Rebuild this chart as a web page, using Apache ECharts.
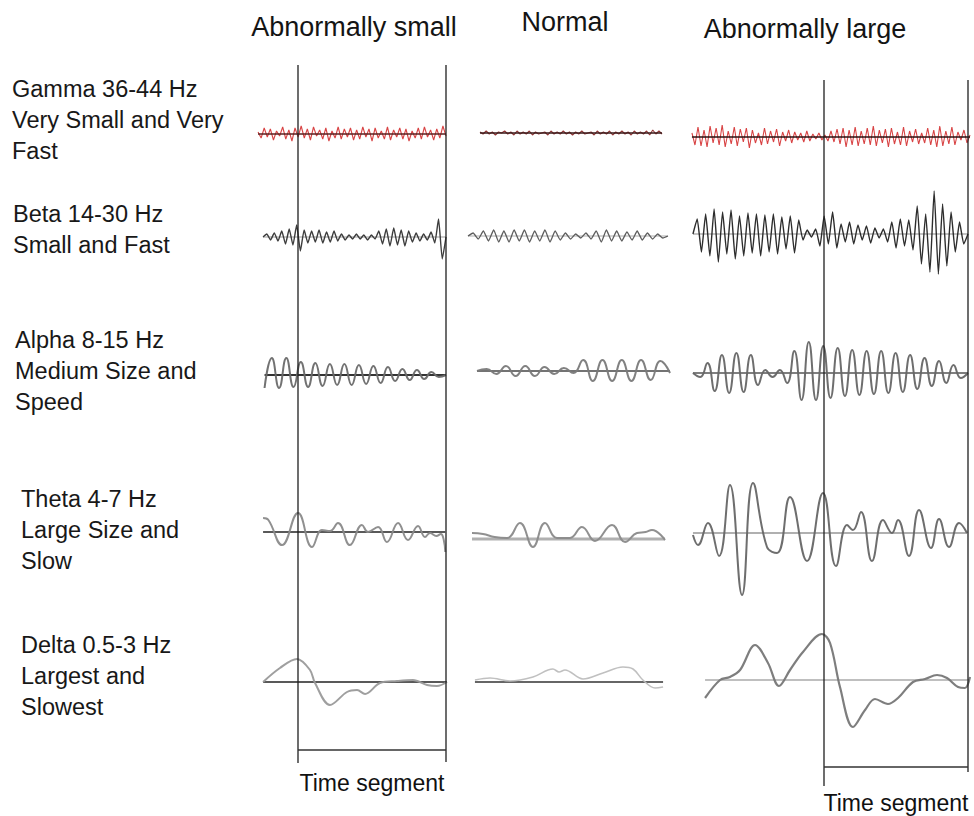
<!DOCTYPE html>
<html>
<head>
<meta charset="utf-8">
<script src="https://cdn.jsdelivr.net/npm/echarts@6/dist/echarts.min.js"></script>
<style>html,body{margin:0;padding:0;background:#fff}#c{width:974px;height:816px}</style>
</head>
<body>
<div id="c"></div>
<script>
// ---------- texts ----------
const columnTitles = ['Abnormally small', 'Normal', 'Abnormally large'];
const bandLabels = [
  ['Gamma 36-44 Hz', 'Very Small and Very', 'Fast'],
  ['Beta 14-30 Hz', 'Small and Fast'],
  ['Alpha 8-15 Hz', 'Medium Size and', 'Speed'],
  ['Theta 4-7 Hz', 'Large Size and', 'Slow'],
  ['Delta 0.5-3 Hz', 'Largest and', 'Slowest']
];
const segmentLabel = 'Time segment';
const segmentMs = 1000; // one time segment (between the vertical lines)

// ---------- data (amplitude in µV, time in ms; uniform samples span [t0,t1]) ----------
// Gamma
const gammaSmall = [2,-4,6,-3,5,-6,3,-2,7,-5,4,-7,6,-3,8,-4,5,-6,7,-2,4,-5,6,-7,3,-4,7,-5,5,-3,6,-6,4,-5,7,-3,5,-7,6,-4,3,-5,7,-6,4,-3,6,-5,5,-7,3,-4,6,-5,7,-3,4,-6,5,-4,8,-2];
const gammaSmallSpan = [-270, 1000];
const gammaNormal = [1,-1,2,-1,1,-2,1,0,2,-1,1,-2,2,-1,1,-1,2,-2,1,-1,0,1,-2,2,-1,1,-1,2,-1,1,-2,1,-1,2,-1,0,1,-2,2,-1,1,-1,2,-2,1,-1,2,-1,1,-2,2,-1,1,-1,2,-2,3,-1,2,-1];
const gammaNormalSpan = [81, 1311];
const gammaLarge = [4,-8,10,-9,7,-10,11,-6,9,-8,12,-10,6,-7,10,-9,8,-5,9,-11,7,-6,4,-8,9,-7,6,-5,8,-9,5,-4,7,-6,5,-3,4,-5,6,-4,3,-2,4,-3,2,-4,6,-5,8,-7,9,-10,7,-8,10,-9,6,-7,9,-8,11,-9,7,-6,8,-10,9,-7,5,-8,10,-9,6,-5,8,-7,4,-6,9,-8,7,-10,11,-9,6,-7,10,-8,5,-3,7,-6,2];
const gammaLargeSpan = [-917, 1014];
// Beta
const betaSmall = [0,3,-3,4,-4,6,-7,8,-8,12,-14,7,-6,6,-5,7,-6,5,-5,6,-4,3,-3,2,-2,3,-2,2,-3,2,-2,6,-7,8,-9,9,-8,7,-9,6,-5,4,-4,3,-3,5,-6,18,-22,0];
const betaSmallSpan = [-236, 1000];
const betaNormal = [0,3,-3,5,-5,6,-6,5,-6,6,-5,6,-6,5,-5,6,-6,5,-4,3,-3,2,-2,3,-3,5,-6,6,-5,5,-5,4,-4,5,-4,3,-3,2,-2,0];
const betaNormalSpan = [0, 1351];
const betaLarge = [0,15,-18,20,-22,25,-28,22,-20,24,-25,18,-22,21,-19,20,-22,19,-18,20,-20,17,-15,18,-19,14,-6,4,-3,5,-12,18,-10,22,-14,10,-8,12,-10,9,-6,8,-9,6,-4,5,-8,12,-14,15,-12,14,-16,28,-30,20,-38,43,-40,30,-32,22,-18,12,-10,0];
const betaLargeSpan = [-910, 1000];
// Alpha (successive peaks / troughs)
const alphaSmall = [-13,17,-13,17,-12,13,-12,12,-11,11,-10,11,-10,10,-9,9,-8,8,-6,6,-5,5,-4,3,-2,0];
const alphaSmallSpan = [-226, 1000];
const alphaNormal = [0,2,-3,5,-5,5,-5,4,-3,3,-2,11,-10,11,-10,11,-10,11,-9,10,-2];
const alphaNormalSpan = [61, 1365];
const alphaLarge = [0,-4,10,-18,18,-20,20,-19,18,-12,3,-4,3,-10,22,-27,31,-27,27,-25,25,-23,23,-22,22,-21,22,-20,20,-19,18,-16,15,-13,12,-10,8,-5,0];
const alphaLargeSpan = [-910, 1000];
// Theta ([time ms, µV])
const thetaSmall = [[-236,14],[-200,12],[-108,-13],[0,19],[95,-15],[162,2],[216,1],[270,9],[351,-13],[432,7],[473,0],[541,5],[601,-10],[676,9],[743,-8],[811,6],[858,-5],[892,-1],[935,-4],[965,-2],[985,-8],[995,-20]];
const thetaNormal = [[27,6],[101,5],[180,2],[264,1],[351,16],[439,-8],[520,16],[601,1],[689,1],[770,12],[858,-2],[973,14],[1061,-3],[1142,6],[1200,7],[1243,9],[1331,-1]];
const thetaLarge = [[-910,-2],[-875,-12],[-806,10],[-729,-23],[-653,48],[-569,-62],[-493,50],[-396,-14],[-326,-20],[-236,36],[-118,-28],[-7,40],[83,-33],[160,8],[201,3],[257,21],[333,-28],[410,13],[472,0],[514,13],[590,-23],[660,23],[743,-15],[799,14],[868,-14],[938,10],[993,0]];
// Delta ([time ms, µV])
const deltaSmall = [[-236,0],[-122,14],[-7,23],[81,12],[115,-1],[216,-23],[331,-10],[399,-8],[453,-12],[554,-1],[669,1],[777,2],[872,-3],[939,-4],[1007,0]];
const deltaNormal = [[47,2],[149,4],[284,1],[439,5],[574,13],[615,10],[655,12],[777,3],[912,9],[1047,15],[1115,13],[1182,2],[1264,-6],[1318,-5]];
const deltaLarge = [[-826,-18],[-722,0],[-653,3],[-583,10],[-479,35],[-389,17],[-313,-6],[-236,10],[-146,28],[-14,46],[42,37],[111,-7],[201,-47],[285,-30],[354,-19],[444,-24],[514,-18],[618,-2],[701,1],[785,5],[854,2],[931,-7],[979,-8],[1014,3]];

// ---------- layout ----------
const W = 974, H = 816;
const colLayout = [
  {origin: 298, pxPerMs: 0.148, tMin: -280, tMax: 1065},
  {origin: 468, pxPerMs: 0.148, tMin: -20, tMax: 1370},
  {origin: 824, pxPerMs: 0.144, tMin: -930, tMax: 1035}
];
const rowBase = [[134,133,137],[237,236,234],[375,371,373],[532,539,533],[682,682,680]];
const halfH = 80;

function uniform(vals, span) {
  const n = vals.length - 1;
  return vals.map((v, i) => [span[0] + (span[1] - span[0]) * i / n, v]);
}

const waveData = [
  [uniform(gammaSmall, gammaSmallSpan), uniform(gammaNormal, gammaNormalSpan), uniform(gammaLarge, gammaLargeSpan)],
  [uniform(betaSmall, betaSmallSpan), uniform(betaNormal, betaNormalSpan), uniform(betaLarge, betaLargeSpan)],
  [uniform(alphaSmall, alphaSmallSpan), uniform(alphaNormal, alphaNormalSpan), uniform(alphaLarge, alphaLargeSpan)],
  [thetaSmall, thetaNormal, thetaLarge],
  [deltaSmall, deltaNormal, deltaLarge]
];

// styles per cell: [waveColor, waveWidth, smooth, baseColor, baseWidth]
const cellStyle = [
  [['#d6393a',1.1,false,'#5a2020',1.4],['#8c2a2a',1.1,false,'#3a1a1a',1.4],['#d6393a',1.1,false,'#2a1010',1.4]],
  [['#333',1.4,0.15,'#999',1],['#555',1.3,0.15,'#aaa',1],['#222',1.4,0.15,'#888',1.2]],
  [['#6a6a6a',2,0.5,'#333',1.8],['#7a7a7a',2,0.5,'#444',1.6],['#666',2,0.5,'#555',1.6]],
  [['#8a8a8a',2,0.45,'#222',1.5],['#8a8a8a',2,0.45,'#b0b0b0',3],['#666',2,0.45,'#b0b0b0',2]],
  [['#9a9a9a',2,0.35,'#222',1.5],['#bdbdbd',1.6,0.35,'#333',1.5],['#777',2.2,0.35,'#aaa',1.5]]
];

const grids = [], xAxes = [], yAxes = [], series = [];
let gi = 0;
const gridIndexOf = {};
for (let r = 0; r < 5; r++) {
  for (let c = 0; c < 3; c++) {
    const L = colLayout[c];
    grids.push({
      left: L.origin + L.tMin * L.pxPerMs,
      width: (L.tMax - L.tMin) * L.pxPerMs,
      top: rowBase[r][c] - halfH,
      height: halfH * 2,
      containLabel: false
    });
    xAxes.push({type: 'value', gridIndex: gi, min: L.tMin, max: L.tMax, show: false});
    yAxes.push({type: 'value', gridIndex: gi, min: -halfH, max: halfH, show: false});
    const d = waveData[r][c];
    const st = cellStyle[r][c];
    const tFirst = d[0][0], tLast = d[d.length - 1][0];
    series.push({
      type: 'line', xAxisIndex: gi, yAxisIndex: gi, symbol: 'none', silent: true,
      data: [[tFirst, 0], [tLast, 0]],
      lineStyle: {color: st[3], width: st[4]}, z: r === 0 ? 3 : 2
    });
    series.push({
      type: 'line', xAxisIndex: gi, yAxisIndex: gi, symbol: 'none', silent: true,
      data: d, smooth: st[2],
      lineStyle: {color: st[0], width: st[1], opacity: 0.95}, z: r === 0 ? 2 : 3
    });
    gridIndexOf[r + '_' + c] = gi;
    gi++;
  }
}

const chart = echarts.init(document.getElementById('c'), null, {renderer: 'svg', width: W, height: H});
chart.setOption({
  animation: false,
  backgroundColor: '#ffffff',
  grid: grids, xAxis: xAxes, yAxis: yAxes, series: series
});

// ---------- annotations ----------
const FONT = '"Liberation Sans", Arial, sans-serif';
const graphics = [];
const titlePos = [[354, 27], [565, 22], [805, 29]];
columnTitles.forEach((t, i) => graphics.push({
  type: 'text', x: titlePos[i][0], y: titlePos[i][1],
  style: {text: t, font: '27px ' + FONT, fill: '#141414', align: 'center', verticalAlign: 'middle'}
}));
const labelPos = [[12, 89], [13, 214], [15, 340], [21, 499], [21, 645]];
const lineGap = 31.2;
bandLabels.forEach((lines, r) => lines.forEach((t, k) => graphics.push({
  type: 'text', x: labelPos[r][0], y: labelPos[r][1] + k * lineGap,
  style: {text: t, font: '23.5px ' + FONT, fill: '#181818', align: 'left', verticalAlign: 'middle'}
})));

// time-segment lines for the two abnormal columns
const segLayout = [
  {col: 0, top: 65, bottomL: 763, bottomR: 762, bracketY: 750, labelY: 783},
  {col: 2, top: 80, bottomL: 786, bottomR: 772, bracketY: 767, labelY: 803}
];
segLayout.forEach(s => {
  const g = gridIndexOf['0_' + s.col];
  const x0 = chart.convertToPixel({gridIndex: g}, [0, 0])[0];
  const x1 = chart.convertToPixel({gridIndex: g}, [segmentMs, 0])[0];
  const ls = {stroke: '#1f1f1f', lineWidth: 1.3};
  graphics.push({type: 'line', shape: {x1: x0, y1: s.top, x2: x0, y2: s.bottomL}, style: ls, z: 10});
  graphics.push({type: 'line', shape: {x1: x1, y1: s.top, x2: x1, y2: s.bottomR}, style: ls, z: 10});
  graphics.push({type: 'line', shape: {x1: x0, y1: s.bracketY, x2: x1, y2: s.bracketY}, style: {stroke: '#333', lineWidth: 1.6}, z: 10});
  graphics.push({
    type: 'text', x: x0 + (x1 - x0) / 2, y: s.labelY,
    style: {text: segmentLabel, font: '23px ' + FONT, fill: '#111', align: 'center', verticalAlign: 'middle'}
  });
});
chart.setOption({graphic: graphics});
</script>
</body>
</html>
